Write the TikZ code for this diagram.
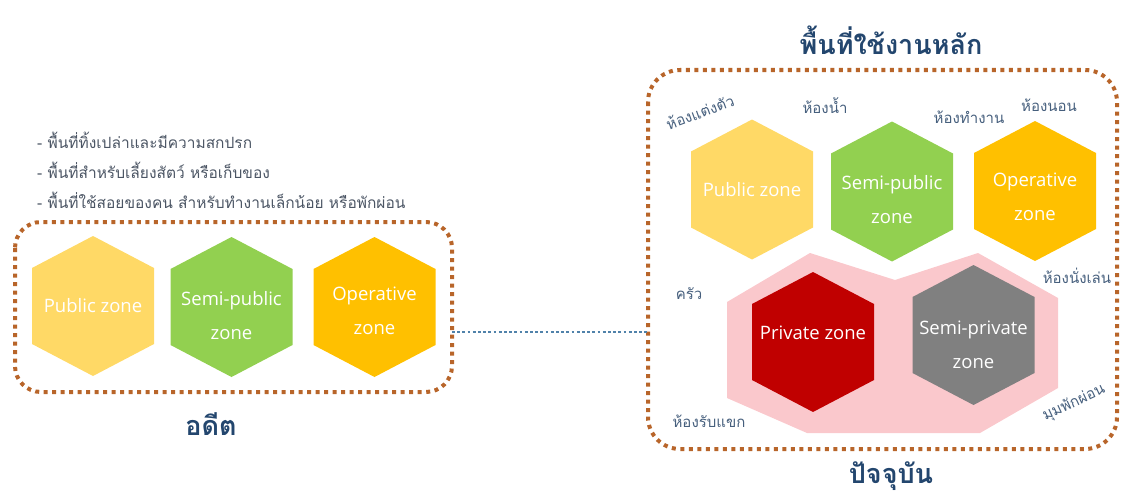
\documentclass[tikz,border=0pt]{standalone}
\usepackage{fontspec}
\setmainfont{Open Sans}
\newfontfamily\thai[Script=Thai]{Loma}
\usetikzlibrary{calc}
\definecolor{brownd}{RGB}{184,101,42}
\definecolor{bluel}{RGB}{80,130,170}
\definecolor{titleblue}{RGB}{35,70,110}
\definecolor{labelc}{RGB}{70,95,125}
\definecolor{bulletc}{RGB}{75,85,100}
\definecolor{zyellow}{RGB}{255,217,102}
\definecolor{zgreen}{RGB}{146,208,80}
\definecolor{zorange}{RGB}{255,192,0}
\definecolor{zred}{RGB}{192,0,0}
\definecolor{zgray}{RGB}{128,128,128}
\definecolor{zpink}{RGB}{250,200,204}
\newcommand\myhex[3]{\fill[#3] (#1,#2) ++(0,-70) -- ++(61,32) -- ++(0,76) -- ++(-61,32) -- ++(-61,-32) -- ++(0,-76) -- cycle;}
\tikzset{
  zonebox/.style={draw=brownd, line width=4pt, dash pattern=on 4pt off 4.5pt},
  link/.style={draw=bluel, line width=2.8pt, dash pattern=on 2.8pt off 2.4pt},
  zonetxt/.style={text=white, font=\fontsize{18.5}{34}\selectfont, align=center, inner sep=0pt},
  title/.style={text=titleblue, font=\thai\bfseries\fontsize{27}{30}\selectfont, inner sep=0pt},
  room/.style={text=labelc, font=\thai\fontsize{15}{17}\selectfont, inner sep=0pt},
  bullet/.style={text=bulletc, font=\thai\fontsize{15.5}{17}\selectfont, inner sep=0pt, anchor=west},
}
\begin{document}
\begin{tikzpicture}[x=1pt, y=-1pt]
\useasboundingbox (0,0) rectangle (1121,495);
% ---- left (past) ----
\node[bullet] (b1) at (37,140) {- พื้นที่ทิ้งเปล่าและมีความสกปรก};
\node[bullet] (b2) at (37,170) {- พื้นที่สำหรับเลี้ยงสัตว์ หรือเก็บของ};
\node[bullet] (b3) at (37,200) {- พื้นที่ใช้สอยของคน สำหรับทำงานเล็กน้อย หรือพักผ่อน};
\myhex{93}{306}{zyellow}
\myhex{231.5}{307}{zgreen}
\myhex{374.5}{307}{zorange}
\node[zonetxt] (lp) at (93,306) {Public zone};
\node[zonetxt] (ls) at (231.5,316) {Semi-public\\zone};
\node[zonetxt] (lo) at (374.5,311) {Operative\\zone};
\draw[zonebox, rounded corners=26pt] (15,222) rectangle (452,392);
\coordinate (lb) at (452,332);
\node[title] (past) at (211,424) {อดีต};
% ---- right (present) ----
\node[title] (main) at (891,40) {พื้นที่ใช้งานหลัก};
\fill[zpink] (727,302) -- (810,253) -- (895,280) -- (978,253) -- (1058,298) -- (1058,388) -- (980,433) -- (807,433) -- (727,398) -- cycle;
\myhex{752}{189.5}{zyellow}
\myhex{892}{191.5}{zgreen}
\myhex{1035}{191}{zorange}
\myhex{813}{342}{zred}
\myhex{973.5}{335}{zgray}
\node[zonetxt] (rp) at (752,190) {Public zone};
\node[zonetxt] (rs) at (892,200) {Semi-public\\zone};
\node[zonetxt] (ro) at (1035,196.5) {Operative\\zone};
\node[zonetxt] (rpr) at (813,333) {Private zone};
\node[zonetxt] (rsp) at (973.5,344.5) {Semi-private\\zone};
\draw[zonebox, rounded corners=32pt] (648,70) rectangle (1117,449);
\coordinate (rb) at (648,332);
\node[title] (now) at (891,476) {ปัจจุบัน};
% room labels
\node[room, rotate=20] (r1) at (700,112) {ห้องแต่งตัว};
\node[room] (r2) at (825,106) {ห้องน้ำ};
\node[room] (r3) at (969,117) {ห้องทำงาน};
\node[room] (r4) at (1049,105) {ห้องนอน};
\node[room] (r5) at (1077,276) {ห้องนั่งเล่น};
\node[room] (r6) at (689,294) {ครัว};
\node[room] (r7) at (709,421) {ห้องรับแขก};
\node[room, rotate=25] (r8) at (1074,403) {มุมพักผ่อน};
% connector
\draw[link] (lb) -- (rb);
\end{tikzpicture}
\end{document}
